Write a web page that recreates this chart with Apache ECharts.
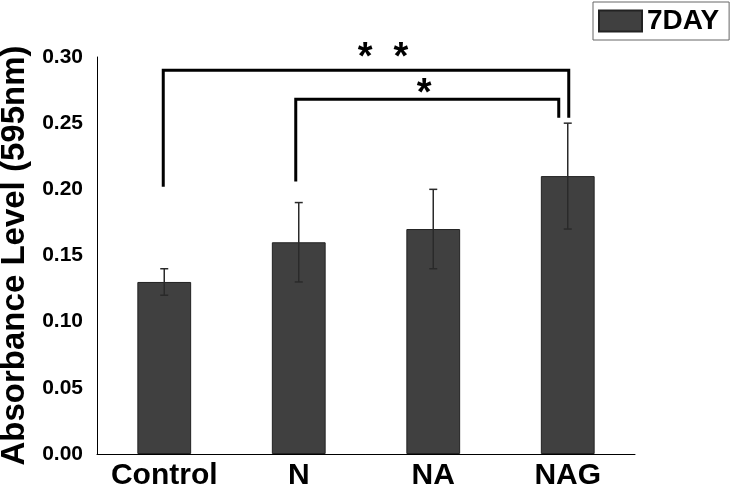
<!DOCTYPE html>
<html><head><meta charset="utf-8">
<script src="https://cdn.jsdelivr.net/npm/echarts@6/dist/echarts.min.js"></script>
<style>html,body{margin:0;padding:0;background:#fff}#c{width:735px;height:487px}</style>
</head><body><div id="c"></div>
<script>
const categories = ['Control', 'N', 'NA', 'NAG'];
const means = [0.13, 0.16, 0.17, 0.21];
const errLow = [0.12, 0.13, 0.14, 0.17];
const errHigh = [0.14, 0.19, 0.20, 0.25];
const yTicks = [0.00, 0.05, 0.10, 0.15, 0.20, 0.25, 0.30];
const seriesName = '7DAY';
const yAxisTitle = 'Absorbance Level (595nm)';
// significance brackets: from category, to category, left leg bottom, bracket top, right leg bottom, label
const bracketFrom = ['Control', 'N'];
const bracketTo = ['NAG', 'NAG'];
const bracketLeftLeg = [0.202, 0.206];
const bracketTop = [0.290, 0.268];
const bracketRightLeg = [0.254, 0.254];
const bracketLabels = ['*  *', '*'];

// styling (pixel offsets for annotations)
const bracketStyle = [
  { dxL: -1, dxR: 1, labelDx: 17, labelDy: 7 },
  { dxL: -3, dxR: -9, labelDx: -3, labelDy: 14 }
];
const FONT = '"Liberation Sans", Arial, sans-serif';

const chart = echarts.init(document.getElementById('c'), null, { renderer: 'canvas' });
const errData = categories.map((c, i) => [i, errLow[i], errHigh[i]]);
const bracketData = bracketFrom.map((f, i) => [categories.indexOf(f), categories.indexOf(bracketTo[i]), bracketLeftLeg[i], bracketTop[i], bracketRightLeg[i], i]);

chart.setOption({
  animation: false,
  backgroundColor: '#fff',
  grid: { left: 97, right: 100, top: 57, bottom: 33, containLabel: false, outerBoundsMode: 'none' },
  legend: {
    data: [seriesName],
    left: 593, top: 2,
    padding: [5, 10, 5, 5],
    icon: 'rect',
    itemWidth: 43, itemHeight: 21, itemGap: 5,
    borderColor: '#666', borderWidth: 1, borderRadius: 0,
    textStyle: { fontFamily: FONT, fontSize: 28, fontWeight: 'bold', color: '#000', lineHeight: 27 }
  },
  xAxis: {
    type: 'category',
    data: categories,
    axisLine: { lineStyle: { color: '#000', width: 1 } },
    axisTick: { show: false },
    axisLabel: { interval: 0, fontFamily: FONT, fontSize: 30, fontWeight: 'bold', color: '#000', margin: 7 }
  },
  yAxis: {
    type: 'value',
    min: yTicks[0], max: yTicks[yTicks.length - 1], interval: 0.05,
    name: yAxisTitle,
    nameLocation: 'middle', nameGap: 63,
    nameTextStyle: { fontFamily: FONT, fontSize: 33, fontWeight: 'bold', color: '#000' },
    axisLine: { show: true, lineStyle: { color: '#000', width: 1 } },
    axisTick: { show: false },
    splitLine: { show: false },
    axisLabel: { fontFamily: FONT, fontSize: 21, fontWeight: 'bold', color: '#000', margin: 14,
      formatter: v => v.toFixed(2) }
  },
  series: [
    {
      name: seriesName, type: 'bar', data: means, barWidth: '40%',
      itemStyle: { color: '#404040', borderColor: '#222', borderWidth: 1 }
    },
    {
      type: 'custom', data: errData, z: 5, silent: true,
      renderItem: (params, api) => {
        const x = api.value(0);
        const lo = api.coord([x, api.value(1)]);
        const hi = api.coord([x, api.value(2)]);
        const cap = 4;
        const st = { stroke: '#2a2a2a', lineWidth: 1.5 };
        return { type: 'group', children: [
          { type: 'line', shape: { x1: lo[0], y1: lo[1], x2: hi[0], y2: hi[1] }, style: st },
          { type: 'line', shape: { x1: lo[0] - cap, y1: lo[1], x2: lo[0] + cap, y2: lo[1] }, style: st },
          { type: 'line', shape: { x1: hi[0] - cap, y1: hi[1], x2: hi[0] + cap, y2: hi[1] }, style: st }
        ]};
      }
    },
    {
      type: 'custom', data: bracketData, z: 6, silent: true,
      renderItem: (params, api) => {
        const i = api.value(5);
        const s = bracketStyle[i];
        const a = api.coord([api.value(0), api.value(2)]);
        const t1 = api.coord([api.value(0), api.value(3)]);
        const b = api.coord([api.value(1), api.value(4)]);
        const xL = a[0] + s.dxL, xR = b[0] + s.dxR, yT = t1[1];
        return { type: 'group', children: [
          { type: 'polyline', shape: { points: [[xL, a[1]], [xL, yT], [xR, yT], [xR, b[1]]] },
            style: { stroke: '#000', lineWidth: 3, fill: null, lineJoin: 'miter' } },
          { type: 'text', x: (xL + xR) / 2 + s.labelDx, y: yT + s.labelDy,
            style: { text: bracketLabels[i], font: 'bold 38px ' + FONT, fill: '#000',
              align: 'center', verticalAlign: 'bottom' } }
        ]};
      }
    }
  ]
});
</script></body></html>
